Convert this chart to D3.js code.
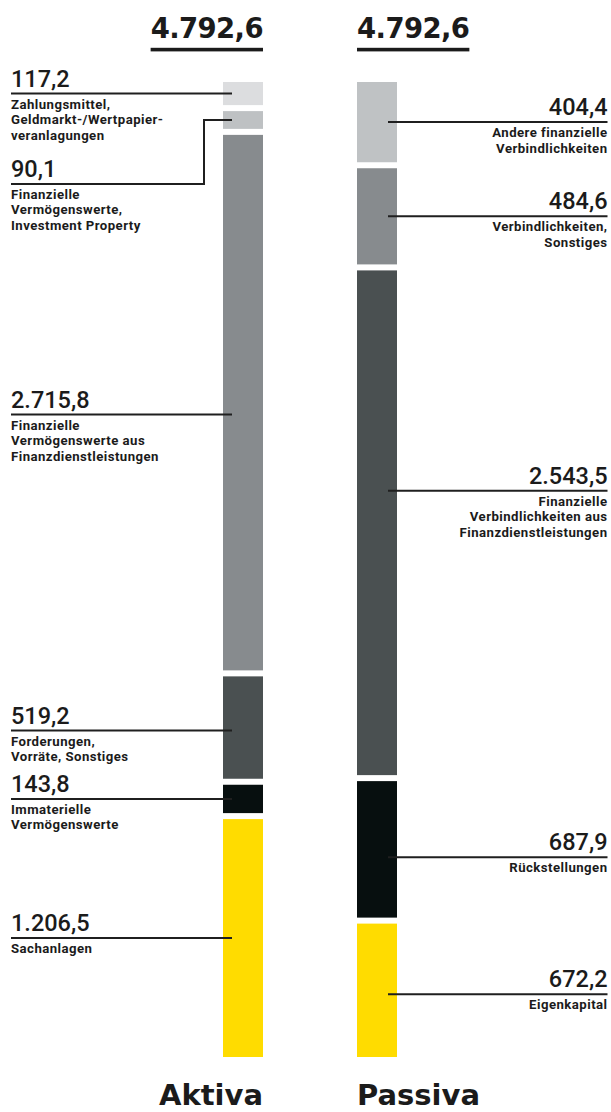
<!DOCTYPE html>
<html>
<head>
<meta charset="utf-8">
<script src="https://cdn.jsdelivr.net/npm/d3@7/dist/d3.min.js"></script>
<style>
  html, body { margin: 0; padding: 0; background: #ffffff; }
  svg { display: block; }
  .val { font-family: Roboto, "Noto Sans", sans-serif; font-weight: 500; font-size: 23.5px; fill: #1b1b1b; }
  .desc { font-family: Roboto, "Noto Sans", sans-serif; font-weight: 700; font-size: 13.2px; letter-spacing: 0.45px; fill: #1b1b1b; }
  .head { font-family: "DejaVu Sans", sans-serif; font-weight: 700; font-size: 27.5px; letter-spacing: -0.6px; fill: #1b1b1b; }
  .foot { font-family: "DejaVu Sans", sans-serif; font-weight: 700; font-size: 29px; fill: #1b1b1b; }
</style>
</head>
<body>
<svg id="chart" width="611" height="1112"></svg>
<script>
// Bilanz: Aktiva und Passiva (Mio. EUR)
const aktivaValues = [117.2, 90.1, 2715.8, 519.2, 143.8, 1206.5];
const aktivaLabels = [
  ["Zahlungsmittel,", "Geldmarkt-/Wertpapier-", "veranlagungen"],
  ["Finanzielle", "Vermögenswerte,", "Investment Property"],
  ["Finanzielle", "Vermögenswerte aus", "Finanzdienstleistungen"],
  ["Forderungen,", "Vorräte, Sonstiges"],
  ["Immaterielle", "Vermögenswerte"],
  ["Sachanlagen"]
];
const aktivaColors = ["#dcdddf", "#bec1c3", "#878b8e", "#4a5051", "#070f0f", "#ffdc00"];

const passivaValues = [404.4, 484.6, 2543.5, 687.9, 672.2];
const passivaLabels = [
  ["Andere finanzielle", "Verbindlichkeiten"],
  ["Verbindlichkeiten,", "Sonstiges"],
  ["Finanzielle", "Verbindlichkeiten aus", "Finanzdienstleistungen"],
  ["Rückstellungen"],
  ["Eigenkapital"]
];
const passivaColors = ["#bfc2c4", "#878b8e", "#4a5051", "#070f0f", "#ffdc00"];

const columnTitles = ["Aktiva", "Passiva"];

// layout
const barTop = 82, barBottom = 1057, gap = 6, barW = 40;
const leaderIn = 9;                 // how far a leader line reaches into its bar
const labelShiftA = [0, 64, 12, 3, 0, 0];   // vertical nudge of each label's leader (px)
const labelShiftP = [0, 0, -32, 8, 4];

const de = d3.formatLocale({ decimal: ",", thousands: ".", grouping: [3], currency: ["", " €"] });
const fmt = de.format(",.1f");

const svg = d3.select("#chart");

function stack(values) {
  const total = d3.sum(values);
  const y = d3.scaleLinear().domain([0, total]).range([0, barBottom - barTop - gap * (values.length - 1)]);
  let acc = 0;
  return { total, segs: values.map((v, i) => {
    const y0 = barTop + y(acc) + gap * i;
    acc += v;
    const y1 = barTop + y(acc) + gap * i;
    return { v, i, y0, y1 };
  }) };
}

function drawColumn(cfg) {
  const { values, labels, colors, shifts, barX, side, textX, elbowX, title } = cfg;
  const { total, segs } = stack(values);
  const g = svg.append("g");

  g.selectAll("rect.seg").data(segs).join("rect")
    .attr("class", "seg")
    .attr("x", barX).attr("width", barW)
    .attr("y", d => d.y0).attr("height", d => d.y1 - d.y0)
    .attr("fill", d => colors[d.i]);

  const anchor = side === "left" ? "start" : "end";
  const innerX = side === "left" ? barX + leaderIn : barX + barW - leaderIn;

  segs.forEach(d => {
    const mid = (d.y0 + d.y1) / 2;
    const ly = mid + shifts[d.i];
    if (Math.abs(shifts[d.i]) > 30 && side === "left") {
      g.append("path")
        .attr("d", `M${textX},${ly}H${elbowX}V${mid}H${innerX}`)
        .attr("fill", "none").attr("stroke", "#1f1f1f").attr("stroke-width", 2);
    } else {
      g.append("line")
        .attr("x1", textX).attr("x2", innerX).attr("y1", ly).attr("y2", ly)
        .attr("stroke", "#1f1f1f").attr("stroke-width", 2);
    }
    g.append("text").attr("class", "val")
      .attr("x", textX).attr("y", ly - 7).attr("text-anchor", anchor)
      .text(fmt(d.v));
    const t = g.append("text").attr("class", "desc").attr("text-anchor", anchor);
    labels[d.i].forEach((line, k) => {
      t.append("tspan").attr("x", textX).attr("y", ly + 15 + k * 15.5).text(line);
    });
  });

  // total heading with underline
  const hx = side === "left" ? barX + barW : barX;
  const head = g.append("text").attr("class", "head")
    .attr("x", hx).attr("y", 37.5).attr("text-anchor", side === "left" ? "end" : "start")
    .text(fmt(total));
  const bb = head.node().getBBox();
  g.append("rect").attr("x", bb.x).attr("width", bb.width)
    .attr("y", 47.8).attr("height", 3.6).attr("fill", "#1b1b1b");

  g.append("text").attr("class", "foot")
    .attr("x", hx).attr("y", 1105).attr("text-anchor", side === "left" ? "end" : "start")
    .text(title);
}

drawColumn({
  values: aktivaValues, labels: aktivaLabels, colors: aktivaColors, shifts: labelShiftA,
  barX: 223, side: "left", textX: 11, elbowX: 204, title: columnTitles[0]
});
drawColumn({
  values: passivaValues, labels: passivaLabels, colors: passivaColors, shifts: labelShiftP,
  barX: 357, side: "right", textX: 607.5, elbowX: 0, title: columnTitles[1]
});
</script>
</body>
</html>
